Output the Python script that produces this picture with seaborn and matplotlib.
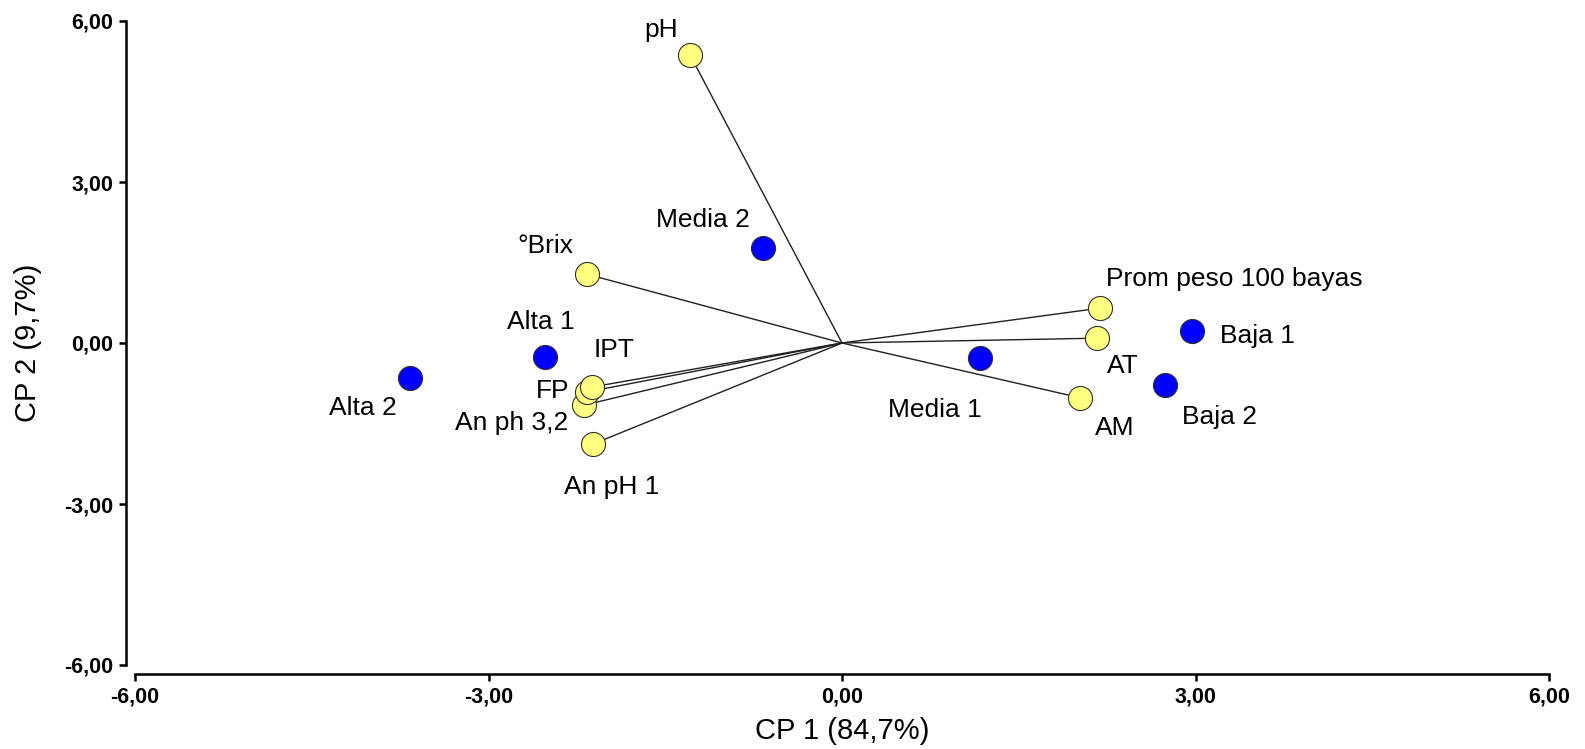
import matplotlib
matplotlib.use("Agg")
import matplotlib.pyplot as plt
import seaborn as sns
import pandas as pd

# Observations (blue)
obs_names = ["Alta 1", "Alta 2", "Media 1", "Media 2", "Baja 1", "Baja 2"]
obs_x = [-2.52, -3.67, 1.17, -0.67, 2.97, 2.74]
obs_y = [-0.26, -0.65, -0.28, 1.77, 0.22, -0.78]

# Variables (yellow, with vectors from origin)
var_names = ["pH", "°Brix", "An pH 1", "An ph 3,2", "FP", "IPT",
             "Prom peso 100 bayas", "AT", "AM"]
var_x = [-1.29, -2.16, -2.11, -2.19, -2.16, -2.12, 2.19, 2.16, 2.02]
var_y = [5.37, 1.28, -1.88, -1.16, -0.91, -0.82, 0.65, 0.09, -1.02]

tick_vals = [-6, -3, 0, 3, 6]
tick_labels = ["-6,00", "-3,00", "0,00", "3,00", "6,00"]
xlabel = "CP 1 (84,7%)"
ylabel = "CP 2 (9,7%)"

# label offsets in pixels (dx, dy) relative to marker
obs_off = {"Alta 1": (-4, 35), "Alta 2": (-47, -30), "Media 1": (-45, -52),
           "Media 2": (-60, 28), "Baja 1": (65, -5), "Baja 2": (55, -32)}
var_off = {"pH": (-29, 25), "°Brix": (-42, 28), "An pH 1": (18, -43),
           "An ph 3,2": (-72, -18), "FP": (-35, 1), "IPT": (22, 37),
           "Prom peso 100 bayas": (134, 29), "AT": (26, -28), "AM": (35, -30)}

sns.set_theme(style="white")
plt.rcParams['font.family'] = ['Liberation Sans', 'DejaVu Sans']

fig = plt.figure(figsize=(15.85, 7.49), dpi=100)
ax = fig.add_axes([135/1585, 84/749, 1414/1585, 644/749])

obs_df = pd.DataFrame({"x": obs_x, "y": obs_y, "name": obs_names})
var_df = pd.DataFrame({"x": var_x, "y": var_y, "name": var_names})

# vectors
for xv, yv in zip(var_x, var_y):
    ax.plot([0, xv], [0, yv], color="#202020", lw=1.0, zorder=1)

sns.scatterplot(data=obs_df, x="x", y="y", ax=ax, s=300, color="#0000FF",
                edgecolor="#303030", linewidth=0.8, zorder=3, legend=False)
sns.scatterplot(data=var_df, x="x", y="y", ax=ax, s=300, color="#FFFF80",
                edgecolor="#303030", linewidth=0.8, zorder=3, legend=False)

for n, xv, yv in zip(obs_names, obs_x, obs_y):
    dx, dy = obs_off[n]
    ax.annotate(n, (xv, yv), xytext=(dx, dy), textcoords="offset pixels",
                ha="center", va="center", fontsize=19, color="black")
for n, xv, yv in zip(var_names, var_x, var_y):
    dx, dy = var_off[n]
    ax.annotate(n, (xv, yv), xytext=(dx, dy), textcoords="offset pixels",
                ha="center", va="center", fontsize=19, color="black")

sns.despine(ax=ax, offset=6.5)
for side in ["left", "bottom"]:
    ax.spines[side].set_linewidth(1.8)
    ax.spines[side].set_color("black")

ax.set_xlim(-6, 6)
ax.set_ylim(-6, 6)
ax.tick_params(axis="both", direction="out", length=5, width=1.8, color="black",
               bottom=True, left=True, pad=4, labelcolor="black", labelsize=15.5)
ax.set_xticks(tick_vals)
ax.set_xticklabels(tick_labels, fontweight="bold", fontsize=15.5)
ax.set_yticks(tick_vals)
ax.set_yticklabels(tick_labels, fontweight="bold", fontsize=15.5)
ax.set_xlabel(xlabel, fontsize=21, color="black")
ax.set_ylabel(ylabel, fontsize=21, color="black")
ax.xaxis.set_label_coords(0.5, -0.08)
ax.yaxis.set_label_coords(-0.0658, 0.5)

fig.savefig("out.png", dpi=100)
